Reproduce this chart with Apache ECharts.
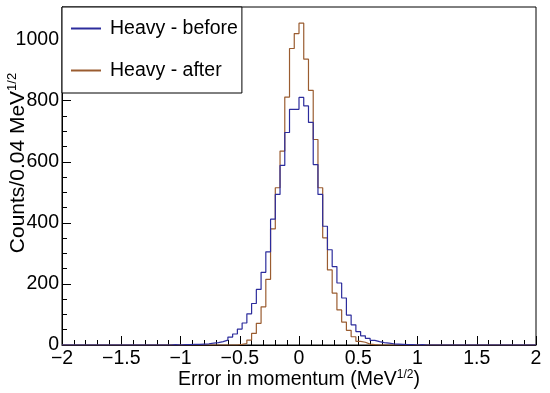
<!DOCTYPE html>
<html>
<head>
<meta charset="utf-8">
<script src="https://cdn.jsdelivr.net/npm/echarts@6/dist/echarts.min.js"></script>
<style>html,body{margin:0;padding:0;background:#fff}#c{width:550px;height:393px}</style>
</head>
<body>
<div id="c"></div>
<script>
// Histogram: 100 bins of width 0.04 from -2 to 2
var xMin = -2, xMax = 2, binWidth = 0.04;
var seriesNames = ['Heavy - before', 'Heavy - after'];
var xTickLabels = ['\u22122', '\u22121.5', '\u22121', '\u22120.5', '0', '0.5', '1', '1.5', '2'];
var yTickLabels = ['0', '200', '400', '600', '800', '1000'];

var before = [
  0,0,0,0,0,0,0,0,0,0,
  0,0,0,0,0,0,0,0,0,0,
  0,0,0,1,0,1,1,2,2,3,
  4,6,8,11,16,26,36,52,72,102,
  136,182,238,305,412,493,588,696,772,772,
  811,783,729,591,493,389,312,257,203,154,
  98,66,44,30,22,15,11,8,6,4,
  3,2,1,1,0,1,0,0,0,0,
  0,0,0,0,0,0,0,0,0,0,
  0,0,0,0,0,0,0,0,0,0
];
var after = [
  0,0,0,0,0,0,0,0,0,0,
  0,0,0,0,0,0,0,0,0,0,
  0,0,0,0,0,0,0,0,0,0,
  0,0,0,0,0,0,0,2,5,16,
  38,71,125,215,380,515,635,812,971,1020,
  1054,936,834,673,515,351,246,170,115,75,
  48,27,12,9,3,1,0,0,0,0,
  0,0,0,0,0,0,0,0,0,0,
  0,0,0,0,0,0,0,0,0,0,
  0,0,0,0,0,0,0,0,0,0
];

function stepData(vals) {
  var d = [];
  for (var i = 0; i < vals.length; i++) {
    d.push([xMin + i * binWidth, vals[i]]);
  }
  d.push([xMax, vals[vals.length - 1]]);
  return d;
}

var FONT = 'Liberation Sans, Arial, sans-serif';
var FS = 19.5;
var chart = echarts.init(document.getElementById('c'), null, {renderer: 'canvas'});
chart.setOption({
  animation: false,
  backgroundColor: '#fff',
  grid: {left: 62, right: 14, top: 7, bottom: 48, containLabel: false, outerBoundsMode: 'none',
         show: true, borderColor: '#000', borderWidth: 1, backgroundColor: 'transparent'},
  legend: {
    data: seriesNames,
    orient: 'vertical',
    left: 62, top: 7,
    backgroundColor: '#fff',
    borderColor: '#000',
    borderWidth: 1,
    borderRadius: 0,
    padding: [11, 4, 12, 9],
    itemGap: 21,
    itemWidth: 30,
    itemHeight: 2,
    icon: 'rect',
    textStyle: {fontFamily: FONT, fontSize: FS, color: '#000', lineHeight: 21, padding: [0, 0, 0, 4]}
  },
  graphic: [{
    type: 'text',
    x: 18, y: 163,
    rotation: Math.PI / 2,
    style: {
      text: '{a|Counts/0.04 MeV}{s|1/2}',
      align: 'center', verticalAlign: 'middle',
      rich: {
        a: {fontFamily: FONT, fontSize: 21, fill: '#000', lineHeight: 24},
        s: {fontFamily: FONT, fontSize: 13, fill: '#000', lineHeight: 13, verticalAlign: 'top'}
      }
    }
  }],
  xAxis: {
    type: 'value', min: xMin, max: xMax, interval: 0.5,
    axisLine: {show: true, onZero: false, lineStyle: {color: '#000', width: 1}},
    axisTick: {show: true, inside: true, length: 9, lineStyle: {color: '#000'}},
    minorTick: {show: true, splitNumber: 5, length: 5, lineStyle: {color: '#000'}},
    splitLine: {show: false},
    axisLabel: {
      margin: 4, color: '#000', fontFamily: FONT, fontSize: FS,
      formatter: function (v) {
        var idx = Math.round((v - xMin) / 0.5);
        return xTickLabels[idx] !== undefined ? xTickLabels[idx] : '';
      }
    },
    name: '{a|Error in momentum (MeV}{s|1/2}{a|)}',
    nameLocation: 'middle', nameGap: 24, nameMoveOverlap: false,
    nameTextStyle: {
      rich: {
        a: {fontFamily: FONT, fontSize: FS, color: '#000', lineHeight: 22},
        s: {fontFamily: FONT, fontSize: 12, color: '#000', lineHeight: 12, verticalAlign: 'top'}
      }
    }
  },
  yAxis: {
    type: 'value', min: 0, max: 1107, interval: 200,
    axisLine: {show: true, onZero: false, lineStyle: {color: '#000', width: 1}},
    axisTick: {show: true, inside: true, length: 9, lineStyle: {color: '#000'}},
    minorTick: {show: true, splitNumber: 4, length: 5, lineStyle: {color: '#000'}},
    splitLine: {show: false},
    axisLabel: {
      margin: 3, color: '#000', fontFamily: FONT, fontSize: FS, showMaxLabel: false,
      formatter: function (v) {
        var idx = Math.round(v / 200);
        return (Math.abs(v - idx * 200) < 1e-6 && yTickLabels[idx] !== undefined) ? yTickLabels[idx] : '';
      }
    }
  },
  series: [
    {
      name: seriesNames[1], type: 'line', step: 'end', symbol: 'none', z: 2,
      data: stepData(after),
      itemStyle: {color: '#9a5c30'},
      lineStyle: {color: '#9a5c30', width: 1.2}
    },
    {
      name: seriesNames[0], type: 'line', step: 'end', symbol: 'none', z: 3,
      data: stepData(before),
      itemStyle: {color: '#2c2c9c'},
      lineStyle: {color: '#2c2c9c', width: 1.2}
    }
  ]
});
</script>
</body>
</html>
